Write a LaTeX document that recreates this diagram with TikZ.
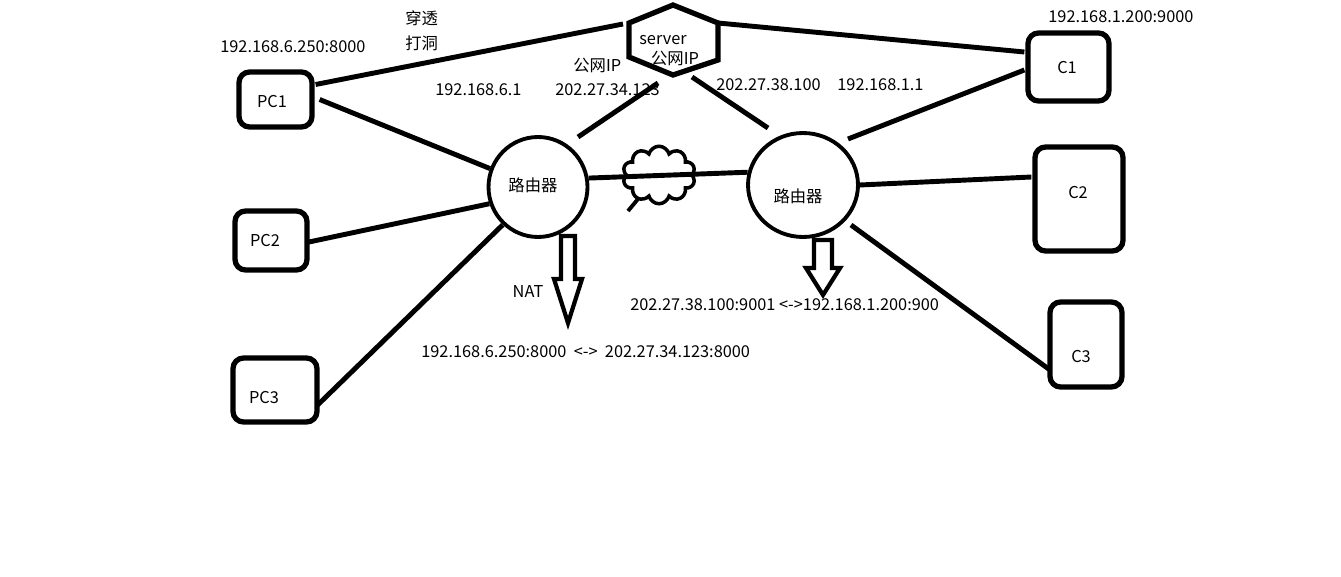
\documentclass[tikz,border=0pt]{standalone}
\usepackage{fontspec}
\setmainfont{Noto Sans CJK SC}
\usepackage{tikz}
\usetikzlibrary{shapes,positioning,calc}

\begin{document}
\begin{tikzpicture}[x=0.02cm, y=-0.02cm]
        % Style definitions
        \tikzset{
            host/.style={draw, rectangle, rounded corners=6pt, line width=3pt, inner sep=0pt},
            router/.style={draw, ellipse, line width=2.2pt, inner sep=0pt},
            link/.style={line width=2.8pt},
            hollow/.style={draw, line width=2.4pt, line join=miter},
            lbl/.style={inner sep=0pt, font=\fontsize{9.3}{11}\selectfont}
        }
        \useasboundingbox (0,0) rectangle (1341,577);

        % Nodes
        \node [host, minimum width=1.46cm, minimum height=1.1cm] (pc1) at (275.5,99.5) {};
        \node [lbl] (pc1-name) at (272,102) {PC1};
        \node [host, minimum width=1.44cm, minimum height=1.18cm] (pc2) at (271,240.5) {};
        \node [lbl] (pc2-name) at (265,241) {PC2};
        \node [host, minimum width=1.68cm, minimum height=1.28cm] (pc3) at (275,390) {};
        \node [lbl] (pc3-name) at (264,398) {PC3};
        \node [router, minimum width=1.98cm, minimum height=2.0cm] (r1) at (538,187) {};
        \node [lbl] (r1-name) at (533,185) {路由器};
        \node [router, minimum width=2.2cm, minimum height=2.08cm] (r2) at (803,185) {};
        \node [lbl] (r2-name) at (798,196) {路由器};
        \node [host, minimum width=1.62cm, minimum height=1.36cm] (c1) at (1068.5,67) {};
        \node [lbl] (c1-name) at (1067,68) {C1};
        \node [host, minimum width=1.76cm, minimum height=2.08cm] (c2) at (1079,199) {};
        \node [lbl] (c2-name) at (1078,193) {C2};
        \node [host, minimum width=1.44cm, minimum height=1.7cm] (c3) at (1086,344.5) {};
        \node [lbl] (c3-name) at (1081,357) {C3};
        \coordinate (srv) at (673,40);
        \node [lbl] (srv-name) at (663,40) {server};
        \node [lbl] (srv-ip) at (675,58) {公网IP};
        \node [cloud, draw, cloud puffs=10, line width=2pt, minimum width=1.45cm, minimum height=1.15cm] (net) at (659,175) {};

        % Server hexagon
        \draw [hollow, line width=3pt] ($(srv)+(0,-35)$) -- ($(srv)+(45,-17)$) -- ($(srv)+(45,20)$) -- ($(srv)+(0,35)$) -- ($(srv)+(-44,17)$) -- ($(srv)+(-44,-17)$) -- cycle;

        % Labels
        \node [lbl, anchor=west] (hole1) at (405,18) {穿透};
        \node [lbl, anchor=west] (hole2) at (405,43) {打洞};
        \node [lbl, anchor=west] (pc1-addr) at (220,47) {192.168.6.250:8000};
        \node [lbl, anchor=west] (r1-lan) at (435,90) {192.168.6.1};
        \node [lbl, anchor=west] (r1-pub) at (573,65) {公网IP};
        \node [lbl, anchor=west] (r1-ip) at (555,90) {202.27.34.123};
        \node [lbl, anchor=west] (r2-ip) at (716,85) {202.27.38.100};
        \node [lbl, anchor=west] (r2-lan) at (837,85) {192.168.1.1};
        \node [lbl, anchor=west] (c1-addr) at (1048,17) {192.168.1.200:9000};
        \node [lbl] (nat) at (528,292) {NAT};
        \node [lbl, anchor=west] (map-r2) at (630,305) {202.27.38.100:9001 <->192.168.1.200:900};
        \node [lbl, anchor=west] (map-r1) at (421,352) {192.168.6.250:8000 \ <-> \ 202.27.34.123:8000};

        % Connections
        \draw [link] ($(pc1.east)+(1,-15)$) -- ($(srv)+(-50,-16)$);
        \draw [link] ($(srv)+(45,-17)$) -- ($(c1.west)+(-1,-15)$);
        \draw [link] ($(pc1.east)+(5,0)$) -- (r1.159);
        \draw [link] ($(pc2.east)+(-3,2)$) -- (r1.199);
        \draw [link] ($(pc3.east)+(-2,15)$) -- (r1.227);
        \draw [link] (r1.10) -- (r2.167);
        \draw [link] ($(r1)+(40,-50)$) -- ($(srv)+(-15,43)$);
        \draw [link] ($(r2)+(-35,-57)$) -- ($(srv)+(19,37)$);
        \draw [link] ($(r2)+(45,-46)$) -- ($(c1.west)+(-1,3)$);
        \draw [link] (r2.east) -- ($(c2.west)+(-1,-22)$);
        \draw [link] ($(r2)+(48,40)$) -- ($(c3.west)+(2,25)$);
        \draw [link, line width=2.2pt] ($(net)+(-31,36)$) -- ($(net)+(-21,24)$);

        % NAT arrows
        \coordinate (nat-l) at (568,236);
        \coordinate (nat-r) at (823,240);
        \draw [hollow] (nat-l) ++(-7,0) -- ++(0,43) -- ++(-7,0) -- ++(14,44) -- ++(14,-44) -- ++(-7,0) -- ++(0,-43) -- cycle;
        \draw [hollow] (nat-r) ++(-9,0) -- ++(0,28) -- ++(-8,0) -- ++(17,27) -- ++(17,-27) -- ++(-8,0) -- ++(0,-28) -- cycle;
    \end{tikzpicture}
\end{document}
